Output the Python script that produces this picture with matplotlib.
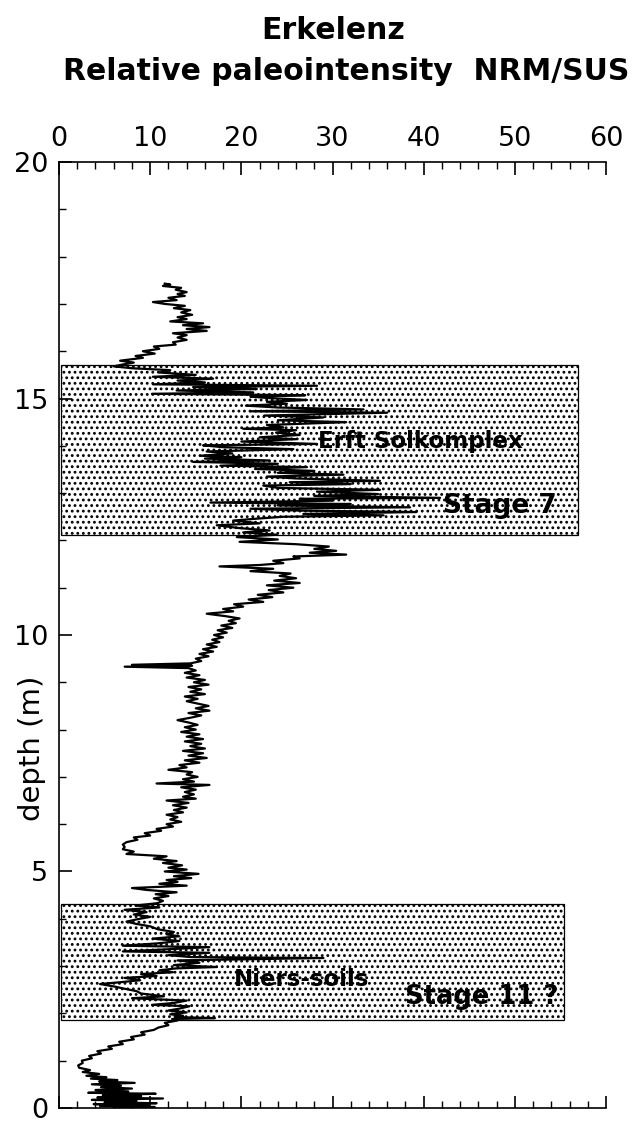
import numpy as np
import matplotlib
matplotlib.use("Agg")
import matplotlib.pyplot as plt
from matplotlib.patches import Rectangle

# NRM/SUS log, depth in m (0 = base of section)
depth = [
    0.00, 0.02, 0.04, 0.06, 0.08, 0.10, 0.12, 0.15, 0.17, 0.20,
    0.22, 0.25, 0.27, 0.30, 0.32, 0.35, 0.38, 0.41, 0.44, 0.47,
    0.50, 0.53, 0.56, 0.59, 0.62, 0.65, 0.68, 0.72, 0.76, 0.80,
    0.85, 0.90, 0.95, 1.00, 1.05, 1.10, 1.15, 1.20, 1.25, 1.30,
    1.35, 1.40, 1.45, 1.50, 1.55, 1.60, 1.65, 1.70, 1.75, 1.80,
    1.85, 1.88, 1.90, 1.92, 1.95, 1.98, 2.02, 2.06, 2.10, 2.15,
    2.18, 2.22, 2.27, 2.32, 2.36, 2.42, 2.47, 2.52, 2.57, 2.62,
    2.66, 2.70, 2.75, 2.79, 2.83, 2.87, 2.91, 2.95, 2.98, 3.02,
    3.07, 3.12, 3.17, 3.19, 3.23, 3.28, 3.31, 3.35, 3.40, 3.43,
    3.48, 3.53, 3.58, 3.63, 3.67, 3.72, 3.78, 3.84, 3.89, 3.94,
    3.99, 4.04, 4.09, 4.14, 4.19, 4.24, 4.28, 4.33, 4.38, 4.43,
    4.48, 4.52, 4.56, 4.61, 4.65, 4.70, 4.74, 4.78, 4.82, 4.86,
    4.90, 4.95, 5.00, 5.04, 5.08, 5.13, 5.18, 5.22, 5.27, 5.32,
    5.37, 5.42, 5.47, 5.52, 5.57, 5.62, 5.67, 5.72, 5.76, 5.81,
    5.86, 5.90, 5.95, 6.00, 6.05, 6.10, 6.15, 6.20, 6.25, 6.30,
    6.35, 6.40, 6.45, 6.50, 6.54, 6.58, 6.63, 6.68, 6.73, 6.78,
    6.83, 6.86, 6.90, 6.95, 7.00, 7.05, 7.10, 7.15, 7.20, 7.25,
    7.30, 7.35, 7.40, 7.45, 7.50, 7.55, 7.60, 7.65, 7.70, 7.75,
    7.80, 7.85, 7.90, 7.95, 8.00, 8.05, 8.10, 8.15, 8.20, 8.25,
    8.30, 8.35, 8.40, 8.45, 8.50, 8.55, 8.60, 8.65, 8.70, 8.75,
    8.80, 8.85, 8.90, 8.95, 9.00, 9.05, 9.10, 9.15, 9.20, 9.25,
    9.30, 9.33, 9.35, 9.37, 9.40, 9.45, 9.50, 9.55, 9.60, 9.65,
    9.70, 9.75, 9.80, 9.85, 9.90, 9.95, 10.00, 10.05, 10.10, 10.15,
    10.20, 10.25, 10.30, 10.35, 10.40, 10.45, 10.50, 10.55, 10.60, 10.65,
    10.70, 10.75, 10.80, 10.85, 10.90, 10.95, 11.00, 11.05, 11.10, 11.15,
    11.20, 11.25, 11.30, 11.35, 11.40, 11.45, 11.48, 11.52, 11.57, 11.62,
    11.66, 11.70, 11.74, 11.78, 11.82, 11.87, 11.92, 11.97, 12.02, 12.07,
    12.12, 12.17, 12.21, 12.26, 12.32, 12.36, 12.42, 12.46, 12.50, 12.53,
    12.56, 12.60, 12.63, 12.67, 12.70, 12.74, 12.77, 12.80, 12.84, 12.88,
    12.90, 12.94, 12.98, 13.03, 13.07, 13.11, 13.16, 13.19, 13.23, 13.26,
    13.31, 13.35, 13.39, 13.43, 13.47, 13.51, 13.55, 13.58, 13.62, 13.66,
    13.69, 13.73, 13.76, 13.79, 13.84, 13.88, 13.93, 13.97, 14.01, 14.04,
    14.09, 14.14, 14.18, 14.23, 14.28, 14.33, 14.36, 14.39, 14.44, 14.50,
    14.54, 14.60, 14.64, 14.70, 14.73, 14.77, 14.81, 14.85, 14.89, 14.93,
    14.97, 15.01, 15.04, 15.07, 15.10, 15.13, 15.17, 15.20, 15.24, 15.27,
    15.30, 15.34, 15.38, 15.42, 15.46, 15.50, 15.55, 15.60, 15.64, 15.68,
    15.72, 15.76, 15.80, 15.86, 15.90, 15.95, 16.00, 16.05, 16.10, 16.14,
    16.19, 16.24, 16.29, 16.34, 16.38, 16.43, 16.47, 16.51, 16.55, 16.59,
    16.63, 16.68, 16.72, 16.77, 16.82, 16.87, 16.91, 16.96, 17.00, 17.04,
    17.08, 17.13, 17.17, 17.21, 17.25, 17.30, 17.34, 17.38, 17.41, 17.43,
]
nrm_sus = [
    6.0, 10.5, 4.5, 9.8, 3.8, 10.7, 5.0, 8.5, 3.6, 11.4,
    4.2, 9.0, 4.8, 10.6, 3.2, 7.6, 4.0, 8.0, 4.6, 6.8,
    3.6, 8.3, 4.4, 6.4, 3.5, 5.2, 3.0, 4.4, 2.6, 3.4,
    2.2, 2.1, 2.6, 2.5, 3.6, 3.3, 4.6, 4.2, 5.8, 5.4,
    7.0, 6.6, 8.2, 7.9, 9.4, 9.0, 10.4, 10.9, 12.0, 11.6,
    13.0, 12.4, 17.1, 12.8, 13.6, 12.2, 14.0, 12.0, 13.2, 14.3,
    10.2, 12.6, 14.0, 8.0, 11.5, 9.0, 8.5, 7.2, 6.0, 4.5,
    6.8, 8.9, 7.2, 10.7, 9.0, 12.5, 11.0, 12.8, 17.3, 12.6,
    15.4, 13.0, 29.0, 14.5, 12.0, 16.5, 7.0, 11.4, 16.5, 7.0,
    10.8, 13.2, 10.3, 13.2, 11.8, 12.6, 10.8, 10.0, 8.5, 7.4,
    8.6, 10.0, 8.2, 9.6, 7.2, 11.0, 8.4, 10.8, 11.4, 10.4,
    12.0, 10.6, 12.9, 9.6, 8.0, 14.0, 11.0, 13.0, 11.8, 14.5,
    12.6, 15.3, 11.6, 14.0, 12.0, 13.5, 11.4, 12.9, 10.4, 11.8,
    7.4, 8.2, 7.0, 7.2, 7.0, 7.4, 8.6, 8.2, 10.0, 9.4,
    11.2, 10.7, 12.5, 11.8, 13.4, 12.2, 13.0, 11.8, 13.6, 12.6,
    14.0, 12.5, 14.2, 11.8, 15.0, 13.6, 14.8, 13.8, 15.0, 13.4,
    16.5, 10.7, 14.8, 13.6, 15.2, 14.0, 14.6, 12.0, 14.0, 13.2,
    15.4, 13.8, 16.2, 14.2, 15.8, 13.6, 16.0, 14.4, 15.6, 13.8,
    15.8, 14.0, 15.4, 13.4, 15.0, 13.8, 15.2, 14.2, 13.0, 14.4,
    15.6, 14.2, 16.5, 15.0, 16.4, 15.2, 14.0, 15.2, 13.8, 16.0,
    14.4, 15.6, 14.2, 16.4, 14.8, 16.0, 14.0, 15.4, 13.8, 15.0,
    14.2, 7.2, 14.6, 8.0, 14.4, 15.6, 15.0, 16.4, 15.4, 16.9,
    15.8, 17.3, 16.2, 17.6, 16.8, 18.0, 17.0, 18.4, 17.4, 19.0,
    17.8, 19.4, 18.6, 19.8, 18.2, 16.2, 19.1, 18.0, 20.2, 19.2,
    22.4, 20.8, 23.4, 21.8, 24.6, 23.0, 25.7, 22.8, 26.4, 23.6,
    26.0, 24.2, 25.4, 21.0, 23.5, 17.6, 22.0, 24.6, 23.5, 26.4,
    25.7, 31.5, 27.5, 30.4, 28.0, 29.6, 26.0, 19.8, 24.0, 19.5,
    23.9, 20.2, 23.1, 19.8, 17.3, 22.0, 19.1, 21.7, 24.6, 35.6,
    26.8, 39.2, 26.4, 21.0, 38.5, 24.0, 32.0, 16.6, 30.0, 26.4,
    41.8, 28.0, 35.0, 28.3, 35.2, 24.0, 22.4, 32.0, 25.3, 35.2,
    26.0, 22.8, 31.2, 24.0, 28.0, 21.5, 27.2, 17.7, 24.0, 14.7,
    23.1, 16.0, 20.0, 15.5, 19.0, 16.2, 25.7, 18.0, 15.8, 28.3,
    20.0, 26.0, 22.0, 26.4, 23.8, 26.0, 20.2, 24.6, 22.8, 31.5,
    24.0, 29.0, 22.5, 36.0, 21.0, 33.4, 24.0, 20.5, 25.0, 22.8,
    27.2, 23.0, 21.0, 27.0, 10.2, 21.3, 12.9, 21.7, 14.7, 28.3,
    10.3, 16.0, 13.0, 16.9, 10.3, 15.0, 11.0, 12.2, 8.0, 6.0,
    7.0, 8.2, 6.7, 9.2, 8.4, 10.5, 9.2, 11.0, 10.4, 12.8,
    12.5, 14.0, 13.0, 14.0, 12.5, 16.2, 14.0, 16.5, 13.6, 15.8,
    12.2, 14.0, 13.0, 14.6, 13.4, 14.4, 12.6, 13.8, 11.6, 10.3,
    12.9, 12.0, 13.8, 13.0, 14.0, 12.8, 13.4, 11.4, 12.2, 11.6,
]

# stratigraphic units: (bottom, top, right edge)
unit_bottom = [1.86, 12.12]
unit_top = [4.31, 15.70]
unit_right = [55.4, 56.9]

labels = ["Erft Solkomplex", "Stage 7", "Niers-soils", "Stage 11 ?"]
label_x = [28.4, 42.1, 19.2, 37.9]
label_y = [14.10, 12.73, 2.71, 2.35]
label_size = [16.6, 19, 16.5, 18.6]

plt.rcParams['hatch.linewidth'] = 1.25

fig = plt.figure(figsize=(6.34, 11.23), dpi=100)
ax = fig.add_axes([0.0931, 0.0134, 0.8628, 0.8423])

for b, t, r in zip(unit_bottom, unit_top, unit_right):
    ax.add_patch(Rectangle((0.2, b), r - 0.2, t - b, facecolor='white',
                           edgecolor='black', hatch='...', lw=0.9, zorder=1))

ax.plot(nrm_sus, depth, color='black', lw=1.6, zorder=3)

for s, x, y, fs in zip(labels, label_x, label_y, label_size):
    ax.text(x, y, s, fontsize=fs, fontweight='bold', ha='left', va='center', zorder=4)

ax.set_xlim(0, 60)
ax.set_ylim(0, 20)
ax.set_xticks(np.arange(0, 61, 10))
ax.set_xticks(np.arange(0, 61, 2), minor=True)
ax.set_yticks(np.arange(0, 21, 5))
ax.set_yticks(np.arange(0, 21, 1), minor=True)
ax.tick_params(axis='x', which='both', direction='in', top=True, bottom=True,
               labeltop=True, labelbottom=False, labelsize=19.5, pad=7)
ax.tick_params(axis='y', which='both', direction='in', left=True, right=False,
               labelsize=19.5, pad=8)
ax.tick_params(which='major', length=9, width=1.2)
ax.tick_params(which='minor', length=5, width=1.0)
ax.spines['right'].set_visible(False)
for side in ['left', 'top', 'bottom']:
    ax.spines[side].set_linewidth(1.2)

ax.set_ylabel('depth (m)', fontsize=21, va='center')
ax.yaxis.set_label_coords(-0.049, 0.38)

fig.text(0.525, 1 - 39 / 1123, 'Erkelenz', fontsize=21.5, fontweight='bold',
         ha='center', va='baseline')
fig.text(0.546, 1 - 80 / 1123, 'Relative paleointensity  NRM/SUS', fontsize=21.5,
         fontweight='bold', ha='center', va='baseline')

fig.savefig('out.png', dpi=100)
